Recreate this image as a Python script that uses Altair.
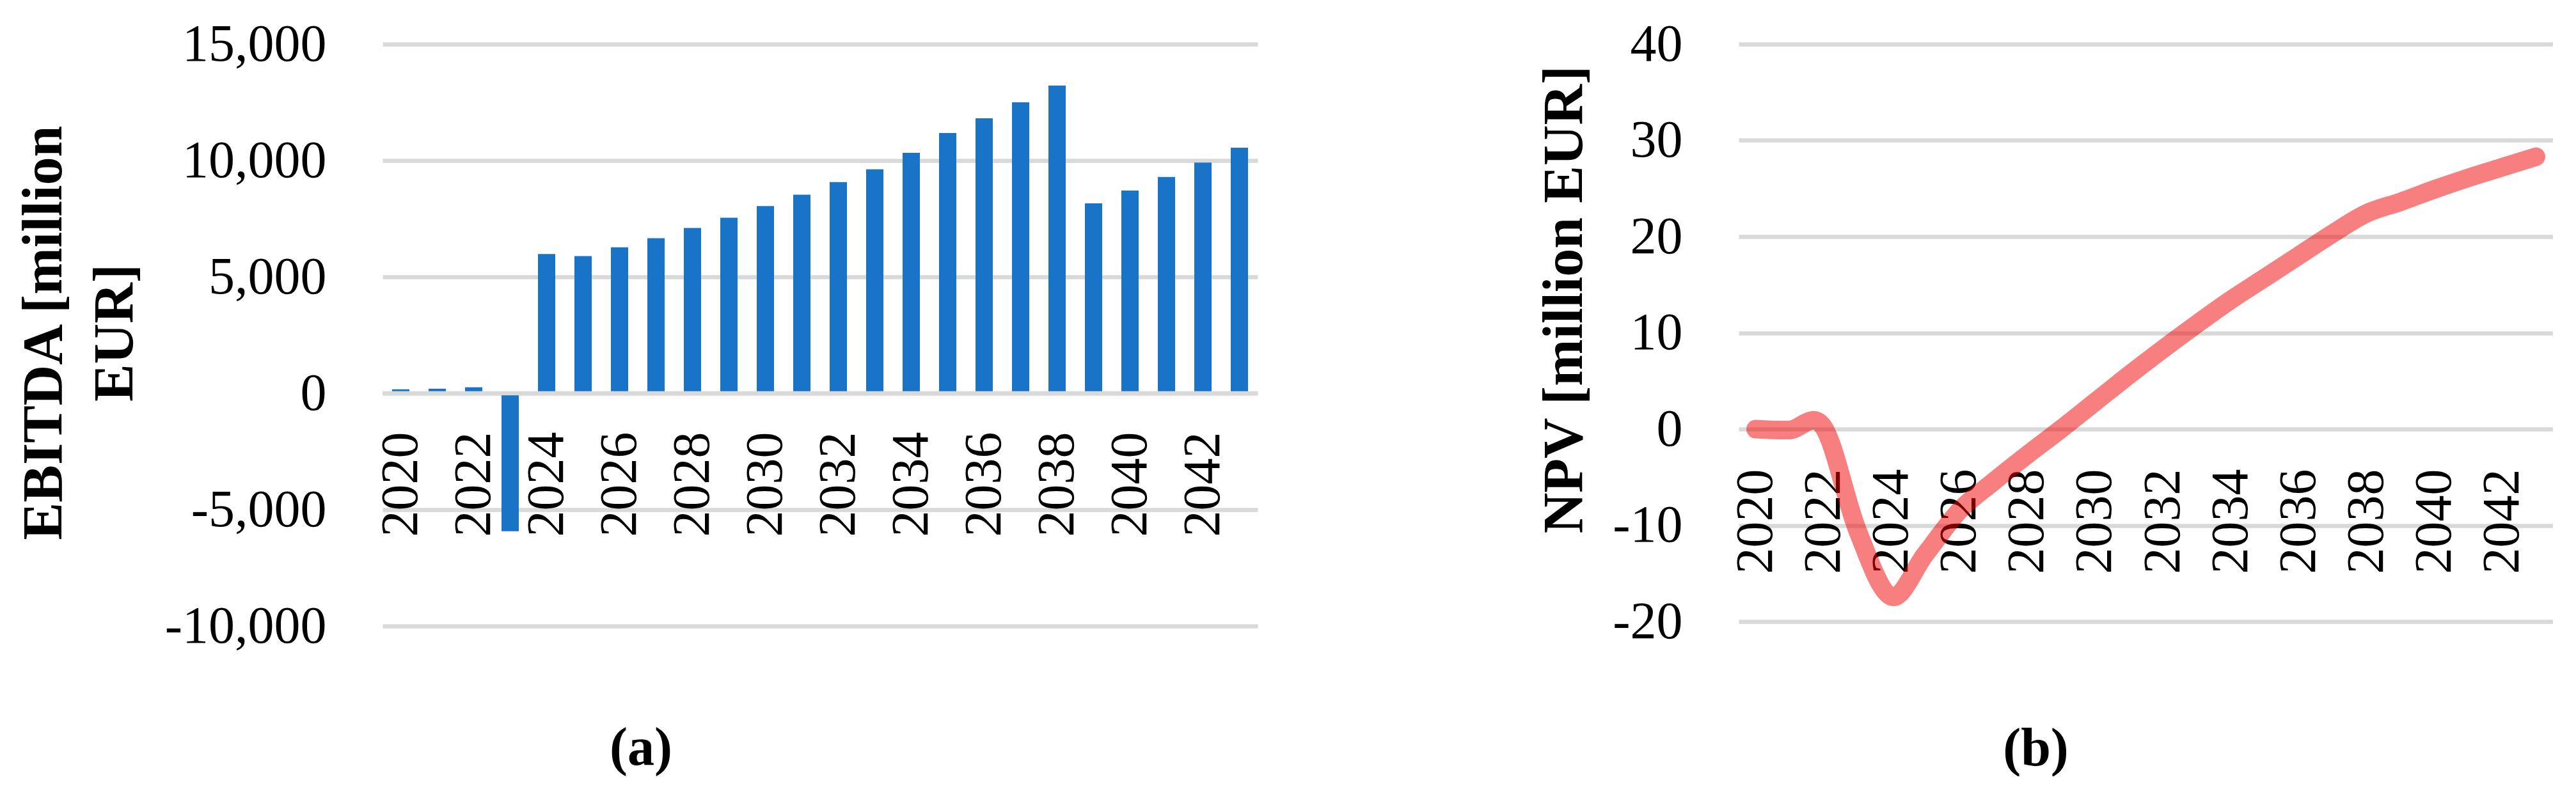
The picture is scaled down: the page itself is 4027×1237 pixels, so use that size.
import altair as alt
import pandas as pd

# ---------------- data ----------------
years = [str(y) for y in range(2020, 2044)]
ebitda = [170, 196, 258, -5930, 5980, 5890, 6270, 6660, 7100, 7540, 8040, 8530,
          9070, 9620, 10330, 11180, 11810, 12500, 13220, 8160, 8710, 9290, 9910, 10550]
npv = [0.0, -0.1, 0.2, -10.5, -17.4, -13.0, -8.5, -5.5, -2.7, 0.0, 2.8, 5.6,
       8.3, 10.9, 13.4, 15.7, 18.0, 20.3, 22.4, 23.6, 24.9, 26.1, 27.2, 28.3]
label_years = [str(y) for y in range(2020, 2044, 2)]
ebitda_ticks = [-10000, -5000, 0, 5000, 10000, 15000]
npv_ticks = [-20, -10, 0, 10, 20, 30, 40]
zero_line = [0]

FONT = "Liberation Serif"
GRID = "#D9D9D9"
LABEL_EXPR = "datum.value < 0 ? '-' + format(-datum.value, ',') : format(datum.value, ',')"

df_a = pd.DataFrame({"year": years, "ebitda": ebitda})
df_b = pd.DataFrame({"year": years, "npv": npv})
df_zero = pd.DataFrame({"v": zero_line})

W_A, H_A = 1368, 910
W_B, H_B = 1273, 903


def x_axis(offset, pad):
    return alt.Axis(values=label_years, labelAngle=270, labelAlign="right",
                    labelBaseline="middle", labelFont=FONT, labelFontSize=82,
                    labelColor="black", labelPadding=pad, labelOverlap=False,
                    labelLimit=1000, offset=offset, domain=False, ticks=False,
                    tickSize=0, grid=False, title=None)


# ---------------- panel (a) ----------------
y_a = alt.Y("ebitda:Q",
            scale=alt.Scale(domain=[-10000, 15000], nice=False, zero=False),
            axis=alt.Axis(values=ebitda_ticks, grid=True, gridColor=GRID, gridWidth=6.7,
                          domain=False, ticks=False, tickSize=0,
                          labelFont=FONT, labelFontSize=82, labelColor="black",
                          labelPadding=88, labelExpr=LABEL_EXPR, labelLimit=1000,
                          title=["EBITDA [million", "EUR]"], titleFont=FONT,
                          titleFontSize=88, titleFontWeight="bold", titleColor="black",
                          titleAngle=270, titleBaseline="alphabetic", titleAlign="center",
                          titleLineHeight=111, titleLimit=2000, titleX=-503, titleY=451))

bars = alt.Chart(df_a).mark_bar(color="#1973C6").encode(
    x=alt.X("year:N", sort=years,
            scale=alt.Scale(paddingInner=0.526, paddingOuter=0.263),
            axis=x_axis(-364, 60)),
    y=y_a,
)
zero_rule = alt.Chart(df_zero).mark_rule(color=GRID, strokeWidth=6.7).encode(
    y=alt.Y("v:Q", scale=alt.Scale(domain=[-10000, 15000], nice=False, zero=False))
)
panel_a = alt.layer(bars, zero_rule).properties(
    width=W_A, height=H_A,
    title=alt.TitleParams("(a)", orient="bottom", anchor="middle", frame="group",
                          dx=-280, offset=176, baseline="alphabetic", font=FONT,
                          fontSize=84, fontWeight="bold", color="black"),
)

# ---------------- panel (b) ----------------
line = alt.Chart(df_b).mark_line(color="#F20000", opacity=0.5, strokeWidth=29,
                                 strokeCap="round", strokeJoin="round",
                                 interpolate="cardinal").encode(
    x=alt.X("year:O", sort=years, scale=alt.Scale(padding=0.5),
            axis=x_axis(-301, 62)),
    y=alt.Y("npv:Q", scale=alt.Scale(domain=[-20, 40], nice=False, zero=False),
            axis=alt.Axis(values=npv_ticks, grid=True, gridColor=GRID, gridWidth=6.7,
                          domain=False, ticks=False, tickSize=0,
                          labelFont=FONT, labelFontSize=82, labelColor="black",
                          labelPadding=88, labelExpr=LABEL_EXPR, labelLimit=1000,
                          title="NPV [million EUR]", titleFont=FONT,
                          titleFontSize=88, titleFontWeight="bold", titleColor="black",
                          titleAngle=270, titleBaseline="alphabetic", titleAlign="center",
                          titleLimit=2000, titleX=-246, titleY=399)),
)
panel_b = line.properties(
    width=W_B, height=H_B,
    title=alt.TitleParams("(b)", orient="bottom", anchor="middle", frame="group",
                          dx=-172, offset=184, baseline="alphabetic", font=FONT,
                          fontSize=84, fontWeight="bold", color="black"),
)

chart = alt.hconcat(panel_a, panel_b, spacing=752, bounds="flush").properties(
    padding={"left": 17, "top": 20, "right": 0, "bottom": 0},
    background="white",
).configure_view(strokeWidth=0)

chart.save("out.html", embed_options={"renderer": "svg", "actions": False})
